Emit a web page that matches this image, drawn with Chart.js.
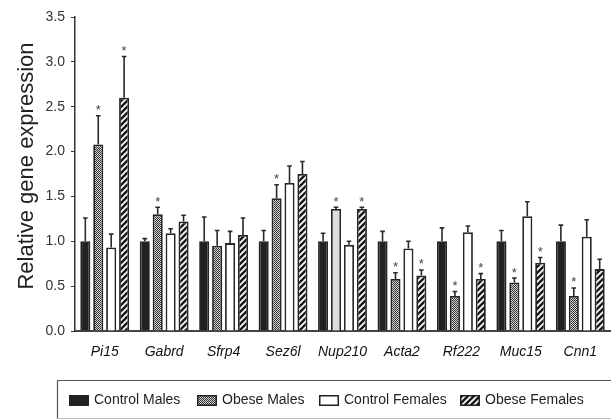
<!DOCTYPE html>
<html>
<head>
<meta charset="utf-8">
<script src="https://cdn.jsdelivr.net/npm/chart.js@4/dist/chart.umd.min.js"></script>
<style>
	html, body { margin: 0; padding: 0; background: #fff; }
	#wrap { width: 611px; height: 419px; position: relative; }
</style>
</head>
<body>
<div id="wrap"><canvas id="chart"></canvas></div>
<script>

/*
 * Chart values.
 *
 */
const genes = [ "Pi15", "Gabrd", "Sfrp4", "Sez6l", "Nup210", "Acta2", "Rf222", "Muc15", "Cnn1" ];
const yTicks = [ 0, 0.5, 1.0, 1.5, 2.0, 2.5, 3.0, 3.5 ];
const yTitle = "Relative gene expression";

const controlMales = [ 1.00, 1.00, 1.00, 1.00, 1.00, 1.00, 1.00, 1.00, 1.00 ];
const controlMalesErr = [ 0.26, 0.03, 0.27, 0.12, 0.09, 0.11, 0.15, 0.12, 0.18 ];

const obeseMales = [ 2.08, 1.30, 0.95, 1.48, 1.36, 0.58, 0.39, 0.54, 0.39 ];
const obeseMalesErr = [ 0.32, 0.08, 0.17, 0.15, 0.02, 0.07, 0.05, 0.05, 0.09 ];
const obeseMalesSig = [ 1, 1, 0, 1, 1, 1, 1, 1, 1 ];

const controlFemales = [ 0.93, 1.09, 0.98, 1.65, 0.96, 0.92, 1.10, 1.28, 1.05 ];
const controlFemalesErr = [ 0.15, 0.05, 0.13, 0.19, 0.04, 0.08, 0.07, 0.16, 0.19 ];

const obeseFemales = [ 2.60, 1.22, 1.07, 1.75, 1.36, 0.62, 0.58, 0.76, 0.69 ];
const obeseFemalesErr = [ 0.46, 0.07, 0.19, 0.14, 0.02, 0.06, 0.06, 0.06, 0.11 ];
const obeseFemalesSig = [ 1, 0, 0, 0, 1, 1, 1, 1, 0 ];

const FONT = "'Liberation Sans', Arial, sans-serif";

/*
 * Fill patterns.
 *
 */
function makePattern( kind )
{
	const c = document.createElement( "canvas" );
	const ctx = c.getContext( "2d" );
	if( kind === "checker" )
	{
		c.width = 2; c.height = 2;
		ctx.fillStyle = "#d4d4d4";
		ctx.fillRect( 0, 0, 2, 2 );
		ctx.fillStyle = "#333";
		ctx.fillRect( 0, 0, 1, 1 );
		ctx.fillRect( 1, 1, 1, 1 );
	}
	else {
		c.width = 6; c.height = 6;
		ctx.fillStyle = "#fff";
		ctx.fillRect( 0, 0, 6, 6 );
		ctx.strokeStyle = "#1a1a1a";
		ctx.lineWidth = 2.5;
		ctx.beginPath();
		ctx.moveTo( 0, 6 ); ctx.lineTo( 6, 0 );
		ctx.moveTo( -1, 1 ); ctx.lineTo( 1, -1 );
		ctx.moveTo( 5, 7 ); ctx.lineTo( 7, 5 );
		ctx.stroke();
	}
	return( ctx.createPattern( c, "repeat" ) );
}

const checker = makePattern( "checker" );
const stripes = makePattern( "stripes" );

// Nup210 obese males bar is rendered as flat light grey in the figure.
const obeseMalesFill = genes.map( g => g === "Nup210" ? "#dedede" : checker );

/*
 * Error bars and significance stars.
 *
 */
const errorBars = {
	id: "errorBars",
	afterDatasetsDraw: function( chart )
	{
		const ctx = chart.ctx;
		const y = chart.scales.y;
		ctx.save();
		chart.data.datasets.forEach( ( ds, i ) =>
		{
			chart.getDatasetMeta( i ).data.forEach( ( bar, j ) =>
			{
				const top = y.getPixelForValue( ds.data[j] + ds.errors[j] );
				ctx.strokeStyle = "#2a2a2a";
				ctx.lineWidth = 1.6;
				ctx.beginPath();
				ctx.moveTo( bar.x, bar.y );
				ctx.lineTo( bar.x, top );
				ctx.moveTo( bar.x - 2.3, top );
				ctx.lineTo( bar.x + 2.3, top );
				ctx.stroke();
				if( ds.stars && ds.stars[j] )
				{
					ctx.fillStyle = "#444";
					ctx.font = "13px " + FONT;
					ctx.textAlign = "center";
					ctx.textBaseline = "alphabetic";
					ctx.fillText( "*", bar.x, top - 1.5 );
				}
			});
		});
		ctx.restore();
	}
};

/*
 * Y axis title, placed a little above the scale centre as in the figure.
 *
 */
const yAxisTitle = {
	id: "yAxisTitle",
	afterDraw: function( chart )
	{
		const ctx = chart.ctx;
		const area = chart.chartArea;
		ctx.save();
		ctx.translate( 27, ( area.top + area.bottom ) / 2 - 8 );
		ctx.rotate( -Math.PI / 2 );
		ctx.fillStyle = "#222";
		ctx.font = "22px " + FONT;
		ctx.textAlign = "center";
		ctx.textBaseline = "middle";
		ctx.fillText( yTitle, 0, 0 );
		ctx.restore();
	}
};

/*
 * Boxed legend under the plot.
 *
 */
const legendBox = {
	id: "legendBox",
	afterDraw: function( chart )
	{
		const ctx = chart.ctx;
		const xs = [ 69, 197, 319, 460 ];
		ctx.save();
		ctx.strokeStyle = "#555";
		ctx.lineWidth = 1.2;
		ctx.beginPath();
		ctx.moveTo( 57, 380.5 ); ctx.lineTo( 612, 380.5 );
		ctx.moveTo( 57.5, 380 ); ctx.lineTo( 57.5, 419 );
		ctx.stroke();
		ctx.strokeStyle = "#bbb";
		ctx.beginPath();
		ctx.moveTo( 57, 418.5 ); ctx.lineTo( 612, 418.5 );
		ctx.stroke();
		chart.data.datasets.forEach( ( ds, i ) =>
		{
			ctx.fillStyle = ds.legendFill;
			ctx.fillRect( xs[i], 395, 20, 11 );
			ctx.strokeStyle = "#222";
			ctx.lineWidth = 1.5;
			ctx.strokeRect( xs[i] + 0.75, 395.75, 18.5, 9.5 );
			ctx.fillStyle = "#222";
			ctx.font = "14px " + FONT;
			ctx.textAlign = "left";
			ctx.textBaseline = "middle";
			ctx.fillText( ds.label, xs[i] + 25, 400.5 );
		});
		ctx.restore();
	}
};

const barStyle = {
	borderColor: "#262626",
	borderWidth: 1.8,
	borderSkipped: "bottom",
	categoryPercentage: 0.87,
	barPercentage: 0.78
};

new Chart( document.getElementById( "chart" ), {
	type: "bar",
	data: {
		labels: genes,
		datasets: [
			{ ...barStyle, label: "Control Males", data: controlMales, errors: controlMalesErr, backgroundColor: "#222", legendFill: "#222" },
			{ ...barStyle, label: "Obese Males", data: obeseMales, errors: obeseMalesErr, stars: obeseMalesSig, backgroundColor: obeseMalesFill, legendFill: checker },
			{ ...barStyle, label: "Control Females", data: controlFemales, errors: controlFemalesErr, backgroundColor: "#fff", legendFill: "#fff" },
			{ ...barStyle, label: "Obese Females", data: obeseFemales, errors: obeseFemalesErr, stars: obeseFemalesSig, backgroundColor: stripes, legendFill: stripes }
		]
	},
	options: {
		responsive: true,
		maintainAspectRatio: false,
		animation: false,
		layout: {
			padding: { top: 17, right: 1, left: 0, bottom: 0 }
		},
		plugins: {
			legend: { display: false },
			title: { display: false },
			tooltip: { enabled: false }
		},
		scales: {
			x: {
				afterFit: s => { s.height = 88; },
				grid: { display: false },
				border: { display: true, color: "#444", width: 2 },
				ticks: {
					color: "#111",
					padding: 5,
					font: { family: FONT, size: 14, style: "italic" }
				}
			},
			y: {
				min: 0,
				max: 3.5,
				afterFit: s => { s.width = 75; },
				afterBuildTicks: s => { s.ticks = yTicks.map( v => ({ value: v }) ); },
				grid: { display: true, drawOnChartArea: false, drawTicks: true, tickLength: 4, color: "#333" },
				border: { display: true, color: "#333", width: 1.5 },
				ticks: {
					color: "#333",
					padding: 6,
					font: { family: FONT, size: 14 },
					callback: v => v.toFixed( 1 )
				}
			}
		}
	},
	plugins: [ errorBars, yAxisTitle, legendBox ]
});
</script>
</body>
</html>
